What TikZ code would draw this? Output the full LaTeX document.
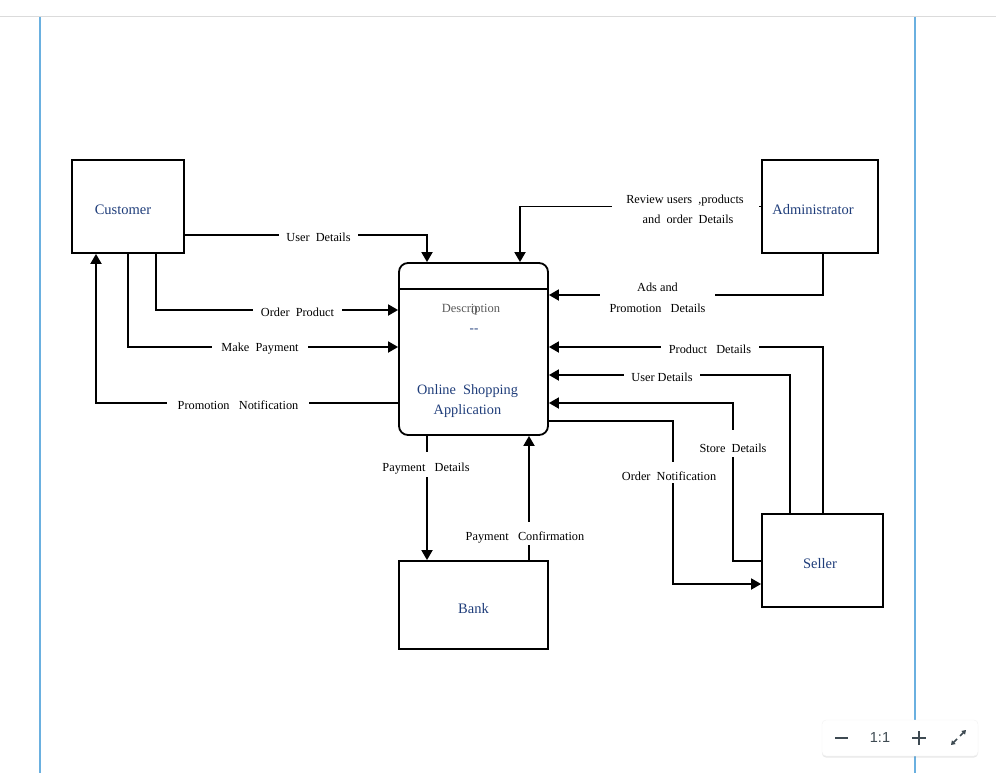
\documentclass[tikz,border=0pt]{standalone}
\usepackage{fontspec}
\setmainfont{Liberation Serif}
\newfontfamily\uifont{Liberation Sans}
\usetikzlibrary{arrows.meta,shadows}
\definecolor{entblue}{HTML}{1F3D7A}
\definecolor{guide}{HTML}{6AB0E0}
\definecolor{uigray}{HTML}{3E4A52}
\tikzset{
  entity/.style={draw, line width=1.8pt, text=entblue, font=\fontsize{14.5}{17}\selectfont,
                 text height=16pt, text depth=0pt},
  procbox/.style={draw, line width=1.8pt, rounded corners=9pt},
  flow/.style={line width=1.8pt, -{Triangle[length=10pt,width=11pt]}},
  lbl/.style={fill=white, inner xsep=7.5pt, inner ysep=1pt, font=\fontsize{12.3}{14}\selectfont, align=center},
  vlbl/.style={lbl, inner xsep=3pt, text height=#1, text depth=0pt},
}
\begin{document}
\begin{tikzpicture}[x=1pt,y=-1pt]
\useasboundingbox (0,0) rectangle (996,773);
% editor chrome
\draw[color=black!14, line width=1pt] (0,16.5) -- (996,16.5);
\draw[color=guide, line width=1.6pt] (40,17) -- (40,773);
\draw[color=guide, line width=1.6pt] (915,17) -- (915,773);

% external entities
\node[entity, minimum width=112pt, minimum height=93pt] (cust) at (128,206.5) {\hspace*{-10pt}Customer};
\node[entity, minimum width=116pt, minimum height=93pt] (admin) at (820,206.5) {\hspace*{-14pt}Administrator};
\node[entity, minimum width=149pt, minimum height=88pt] (bank) at (473.5,605) {Bank};
\node[entity, minimum width=121pt, minimum height=93pt] (seller) at (822.5,560.5) {\hspace*{-5pt}Seller};

% process
\node[procbox, minimum width=149pt, minimum height=172pt] (proc) at (473.5,349) {};
\draw[line width=1.8pt] ([yshift=-27pt]proc.north west) -- ([yshift=-27pt]proc.north east);
\node[text=black!65, font=\fontsize{12.5}{14}\selectfont] (pdesc) at (471,310) {Description};
\node[text=black!65, font=\fontsize{12.5}{14}\selectfont, inner sep=0pt] (pnum) at (474.5,310) {0};
\node[text=entblue, font=\fontsize{13}{14}\selectfont] (pdash) at (474,330.5) {{-}{-}};
\node[text=entblue, font=\fontsize{14.3}{20}\selectfont, align=center] (pname) at (467.5,401.5) {Online~~Shopping\\Application};

% data flows
\draw[flow] ([yshift=-28.5pt]cust.east) -| ([xshift=-46.5pt]proc.north);
\draw[flow] (admin.west) -| ([xshift=46.5pt]proc.north);
\draw[flow] ([xshift=3pt]admin.south) |- ([yshift=54pt]proc.east);
\draw[flow] ([xshift=28pt]cust.south) |- ([yshift=39pt]proc.west);
\draw[flow] (cust.south) |- ([yshift=2pt]proc.west);
\draw[flow] ([yshift=-54pt]proc.west) -| ([xshift=-32pt]cust.south);
\draw[flow] ([xshift=0.5pt]seller.north) |- ([yshift=2pt]proc.east);
\draw[flow] ([xshift=-32.5pt]seller.north) |- ([yshift=-26pt]proc.east);
\draw[flow] ([yshift=-0.5pt]seller.west) -- ++(-28,0) |- ([yshift=-54pt]proc.east);
\draw[flow] ([yshift=-72pt]proc.east) -- ++(124,0) |- ([yshift=-23.5pt]seller.west);
\draw[flow] ([xshift=-46.5pt]proc.south) -- ([xshift=-46.5pt]bank.north);
\draw[flow] ([xshift=55.5pt]bank.north) -- ([xshift=55.5pt]proc.south);

% flow labels
\node[lbl] (l1) at (318.5,237) {User~~Details};
\node[lbl, minimum width=147pt, inner xsep=0pt, font=\fontsize{12.3}{19.5}\selectfont] (l2) at (685,209.5) {Review users~~,products\\~~and~~order~~Details};
\node[lbl, minimum width=115pt, inner xsep=0pt, font=\fontsize{12.3}{21}\selectfont] (l3) at (657.5,298) {Ads and\\Promotion~~~Details};
\node[lbl, minimum width=89pt, inner xsep=0pt] (l4) at (297.5,312) {Order~~Product};
\node[lbl, minimum width=96pt, inner xsep=0pt] (l5) at (260,349) {Make~~Payment};
\node[lbl, minimum width=142pt, inner xsep=0pt] (l6) at (238,405) {Promotion~~~Notification};
\node[lbl] (l7) at (710,349) {Product~~~Details};
\node[lbl] (l8) at (662,377) {User~Details};
\node[vlbl=17pt, minimum height=27pt] (l9) at (733,443.5) {Store~~Details};
\node[vlbl=15pt, minimum height=21pt] (l10) at (669,472.5) {Order~~Notification};
\node[vlbl=13pt, minimum height=25pt] (l11) at (426,464.5) {Payment~~~Details};
\node[vlbl=13pt, minimum height=23pt] (l12) at (525,533.5) {Payment~~~Confirmation};

% zoom control
\node[fill=white, draw=black!5, rounded corners=4pt, minimum width=156pt, minimum height=36pt,
      drop shadow={opacity=0.18, shadow xshift=0pt, shadow yshift=-1.5pt}] (zoomctl) at (900,738) {};
\draw[uigray, line width=1.6pt] (835,738) -- (848,738);
\node[text=uigray, font=\uifont\fontsize{14.5}{16}\selectfont] (zlevel) at (880,738) {1:1};
\draw[uigray, line width=1.6pt] (912,738) -- (926,738) (919,731) -- (919,745);
\draw[uigray, line width=1.5pt, -{Triangle[length=4pt,width=5pt]}] (957,739) -- (951,745);
\draw[uigray, line width=1.5pt, -{Triangle[length=4pt,width=5pt]}] (960,736) -- (966,730);
\end{tikzpicture}
\end{document}
